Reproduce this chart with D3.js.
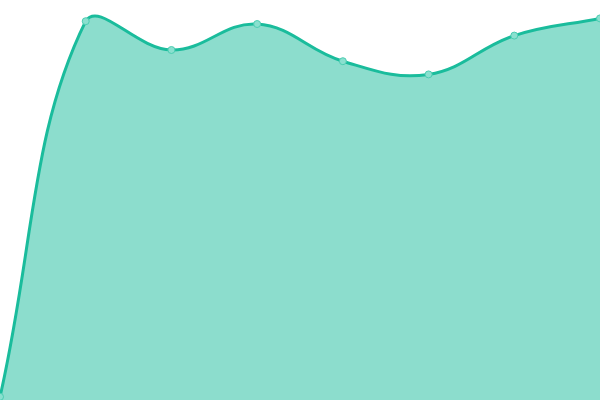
<!DOCTYPE html>
<html>
<head>
<meta charset="utf-8">
<script src="https://cdn.jsdelivr.net/npm/d3@7"></script>
<style>
  html, body { margin: 0; padding: 0; background: #fff; }
  svg { display: block; }
</style>
</head>
<body>
<div id="chart"></div>
<script>
const indices = [0, 1, 2, 3, 4, 5, 6, 7];
const values = [0.8, 94.7, 87.5, 94, 84.7, 81.4, 91.1, 95.4];

const width = 600, height = 400;
const TENSION = 0.4;

// spline with distance-weighted control points, capped to the plot area
function splineCurve(context) {
  let pts = [];
  const clamp = (v, lo, hi) => Math.max(lo, Math.min(hi, v));
  return {
    areaStart() {},
    areaEnd() {},
    lineStart() { pts = []; },
    point(px, py) { pts.push([+px, +py]); },
    lineEnd() {
      const n = pts.length;
      if (!n) return;
      const ctrl = pts.map((cur, i) => {
        const prev = pts[i - 1] || cur;
        const next = pts[i + 1] || cur;
        const d01 = Math.hypot(cur[0] - prev[0], cur[1] - prev[1]);
        const d12 = Math.hypot(next[0] - cur[0], next[1] - cur[1]);
        let s01 = d01 / (d01 + d12), s12 = d12 / (d01 + d12);
        if (isNaN(s01)) s01 = 0;
        if (isNaN(s12)) s12 = 0;
        const fa = TENSION * s01, fb = TENSION * s12;
        return {
          prev: [clamp(cur[0] - fa * (next[0] - prev[0]), 0, width),
                 clamp(cur[1] - fa * (next[1] - prev[1]), 0, height)],
          next: [clamp(cur[0] + fb * (next[0] - prev[0]), 0, width),
                 clamp(cur[1] + fb * (next[1] - prev[1]), 0, height)]
        };
      });
      context.moveTo(pts[0][0], pts[0][1]);
      for (let i = 1; i < n; i++) {
        const a = ctrl[i - 1].next, b = ctrl[i].prev;
        context.bezierCurveTo(a[0], a[1], b[0], b[1], pts[i][0], pts[i][1]);
      }
    }
  };
}

const svg = d3.select("#chart").append("svg")
    .attr("width", width)
    .attr("height", height);

const x = d3.scaleLinear().domain([0, indices.length - 1]).range([0, width]);
const y = d3.scaleLinear().domain([0, 100]).range([height, 0]);

const data = indices.map((d, i) => ({ i: d, v: values[i] }));

const line = d3.line()
    .x(d => x(d.i))
    .y(d => y(d.v))
    .curve(splineCurve);

const linePath = line(data);
const areaPath = linePath
    + "L" + x(indices[indices.length - 1]) + "," + y(0)
    + "L" + x(indices[0]) + "," + y(0) + "Z";

svg.append("path")
    .attr("d", areaPath)
    .attr("fill", "#1abc9c")
    .attr("fill-opacity", 0.5);

svg.append("path")
    .attr("d", linePath)
    .attr("fill", "none")
    .attr("stroke", "#1abc9c")
    .attr("stroke-width", 3);

svg.selectAll("circle.dot")
    .data(data)
  .enter().append("circle")
    .attr("class", "dot")
    .attr("cx", d => x(d.i))
    .attr("cy", d => y(d.v))
    .attr("r", 3.5)
    .attr("fill", "#8ae0cf")
    .attr("stroke", "#4ccdb2")
    .attr("stroke-width", 1);
</script>
</body>
</html>
